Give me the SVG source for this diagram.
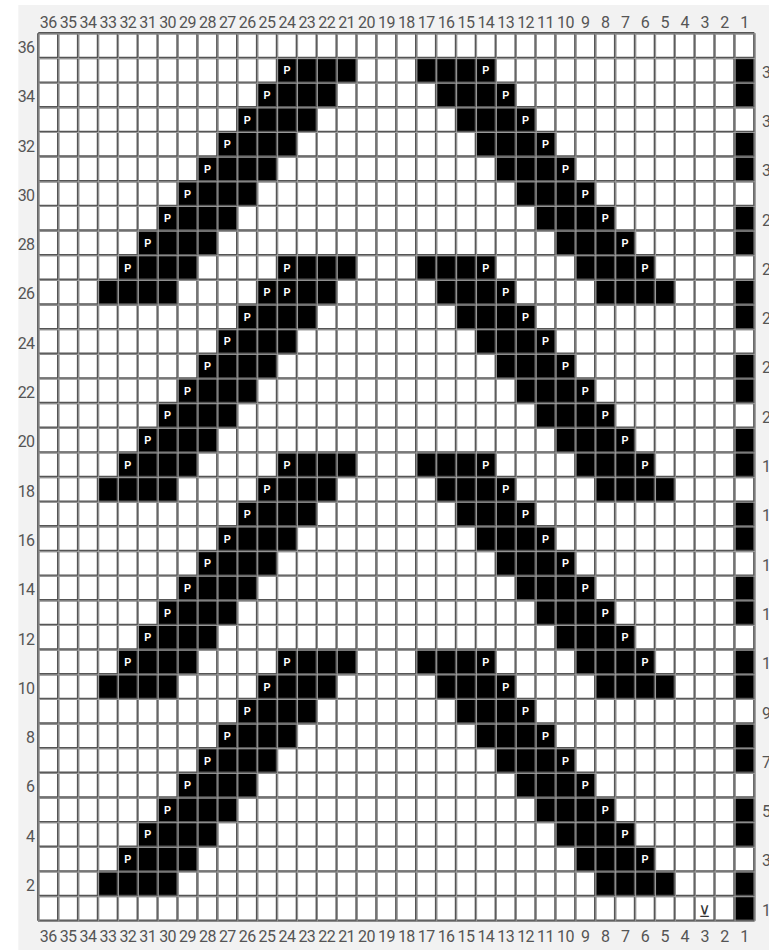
<svg xmlns="http://www.w3.org/2000/svg" xmlns:xlink="http://www.w3.org/1999/xlink" width="769" height="950" viewBox="0 0 769 950">
<style>
.lb{font-family:Roboto,"Noto Sans",sans-serif;font-size:16px;letter-spacing:-0.6px;fill:#555;text-anchor:middle}
.le{text-anchor:end}
.rs{text-anchor:start}
.p{font-family:"Liberation Sans",Arial,sans-serif;font-weight:bold;font-size:10.5px;fill:#fff;text-anchor:middle}
.gd{fill:none;stroke:#555;stroke-width:2.4}
.gl{fill:none;stroke:#aaa;stroke-width:0.8}
</style>
<defs>
<path id="gp" vector-effect="non-scaling-stroke" d="M0 0V36M1 0V36M2 0V36M3 0V36M4 0V36M5 0V36M6 0V36M7 0V36M8 0V36M9 0V36M10 0V36M11 0V36M12 0V36M13 0V36M14 0V36M15 0V36M16 0V36M17 0V36M18 0V36M19 0V36M20 0V36M21 0V36M22 0V36M23 0V36M24 0V36M25 0V36M26 0V36M27 0V36M28 0V36M29 0V36M30 0V36M31 0V36M32 0V36M33 0V36M34 0V36M35 0V36M36 0V36M0 0H36M0 1H36M0 2H36M0 3H36M0 4H36M0 5H36M0 6H36M0 7H36M0 8H36M0 9H36M0 10H36M0 11H36M0 12H36M0 13H36M0 14H36M0 15H36M0 16H36M0 17H36M0 18H36M0 19H36M0 20H36M0 21H36M0 22H36M0 23H36M0 24H36M0 25H36M0 26H36M0 27H36M0 28H36M0 29H36M0 30H36M0 31H36M0 32H36M0 33H36M0 34H36M0 35H36M0 36H36"/>
<path id="dl" d="M12 1H16V2H15V3H14V4H13V5H12V6H11V7H10V8H9V9H8V10H7V11H3V10H4V9H5V8H6V7H7V6H8V5H9V4H10V3H11V2H12Z"/>
<path id="dr" d="M19 1H23V2H24V3H25V4H26V5H27V6H28V7H29V8H30V9H31V10H32V11H28V10H27V9H26V8H25V7H24V6H23V5H22V4H21V3H20V2H19Z"/>
</defs>
<rect x="18.3" y="5" width="751" height="945" fill="#f2f2f2"/>
<g id="chart" transform="translate(38.3 33.3) scale(19.89 24.65)">
<rect x="0" y="0" width="36" height="36" fill="#fff"/>
<g id="stitches" fill="#000">
<path d="M35 1h1v2h-1zM35 4h1v2h-1zM35 7h1v2h-1zM35 10h1v2h-1zM35 13h1v2h-1zM35 16h1v2h-1zM35 19h1v2h-1zM35 22h1v2h-1zM35 25h1v2h-1zM35 28h1v2h-1zM35 31h1v2h-1zM35 34h1v2h-1z"/>
<use xlink:href="#dl"/><use xlink:href="#dl" y="8"/><use xlink:href="#dl" y="16"/><use xlink:href="#dl" y="24"/>
<use xlink:href="#dr"/><use xlink:href="#dr" y="8"/><use xlink:href="#dr" y="16"/><use xlink:href="#dr" y="24"/>
</g>
<use xlink:href="#gp" class="gd"/>
</g>
<g transform="translate(38.9 33.9) scale(19.89 24.65)"><use xlink:href="#gp" class="gl"/></g>
<g id="purl-marks" class="p">
<text x="286.9" y="74.3">P</text><text x="485.8" y="74.3">P</text>
<text x="267.0" y="98.9">P</text><text x="505.7" y="98.9">P</text>
<text x="247.2" y="123.6">P</text><text x="525.6" y="123.6">P</text>
<text x="227.3" y="148.2">P</text><text x="545.5" y="148.2">P</text>
<text x="207.4" y="172.9">P</text><text x="565.4" y="172.9">P</text>
<text x="187.5" y="197.5">P</text><text x="585.3" y="197.5">P</text>
<text x="167.6" y="222.2">P</text><text x="605.2" y="222.2">P</text>
<text x="147.7" y="246.8">P</text><text x="625.1" y="246.8">P</text>
<text x="127.8" y="271.5">P</text><text x="645.0" y="271.5">P</text><text x="286.9" y="271.5">P</text><text x="485.8" y="271.5">P</text>
<text x="267.0" y="296.1">P</text><text x="286.9" y="296.1">P</text><text x="505.7" y="296.1">P</text>
<text x="247.2" y="320.8">P</text><text x="525.6" y="320.8">P</text>
<text x="227.3" y="345.4">P</text><text x="545.5" y="345.4">P</text>
<text x="207.4" y="370.1">P</text><text x="565.4" y="370.1">P</text>
<text x="187.5" y="394.7">P</text><text x="585.3" y="394.7">P</text>
<text x="167.6" y="419.4">P</text><text x="605.2" y="419.4">P</text>
<text x="147.7" y="444.0">P</text><text x="625.1" y="444.0">P</text>
<text x="127.8" y="468.7">P</text><text x="645.0" y="468.7">P</text><text x="286.9" y="468.7">P</text><text x="485.8" y="468.7">P</text>
<text x="267.0" y="493.3">P</text><text x="505.7" y="493.3">P</text>
<text x="247.2" y="518.0">P</text><text x="525.6" y="518.0">P</text>
<text x="227.3" y="542.6">P</text><text x="545.5" y="542.6">P</text>
<text x="207.4" y="567.3">P</text><text x="565.4" y="567.3">P</text>
<text x="187.5" y="591.9">P</text><text x="585.3" y="591.9">P</text>
<text x="167.6" y="616.6">P</text><text x="605.2" y="616.6">P</text>
<text x="147.7" y="641.2">P</text><text x="625.1" y="641.2">P</text>
<text x="127.8" y="665.9">P</text><text x="645.0" y="665.9">P</text><text x="286.9" y="665.9">P</text><text x="485.8" y="665.9">P</text>
<text x="267.0" y="690.5">P</text><text x="505.7" y="690.5">P</text>
<text x="247.2" y="715.2">P</text><text x="525.6" y="715.2">P</text>
<text x="227.3" y="739.8">P</text><text x="545.5" y="739.8">P</text>
<text x="207.4" y="764.5">P</text><text x="565.4" y="764.5">P</text>
<text x="187.5" y="789.1">P</text><text x="585.3" y="789.1">P</text>
<text x="167.6" y="813.8">P</text><text x="605.2" y="813.8">P</text>
<text x="147.7" y="838.4">P</text><text x="625.1" y="838.4">P</text>
<text x="127.8" y="863.1">P</text><text x="645.0" y="863.1">P</text>
</g>
<g id="slip-mark"><text x="704.6" y="917" font-family="'DejaVu Sans',sans-serif" font-size="16" fill="#333" text-anchor="middle">⊻</text></g>
<g id="col-labels-top" class="lb">
<text x="48.2" y="28">36</text><text x="68.1" y="28">35</text><text x="88.0" y="28">34</text><text x="107.9" y="28">33</text><text x="127.8" y="28">32</text><text x="147.7" y="28">31</text><text x="167.6" y="28">30</text><text x="187.5" y="28">29</text><text x="207.4" y="28">28</text><text x="227.3" y="28">27</text><text x="247.2" y="28">26</text><text x="267.0" y="28">25</text><text x="286.9" y="28">24</text><text x="306.8" y="28">23</text><text x="326.7" y="28">22</text><text x="346.6" y="28">21</text><text x="366.5" y="28">20</text><text x="386.4" y="28">19</text><text x="406.3" y="28">18</text><text x="426.2" y="28">17</text><text x="446.1" y="28">16</text><text x="465.9" y="28">15</text><text x="485.8" y="28">14</text><text x="505.7" y="28">13</text><text x="525.6" y="28">12</text><text x="545.5" y="28">11</text><text x="565.4" y="28">10</text><text x="585.3" y="28">9</text><text x="605.2" y="28">8</text><text x="625.1" y="28">7</text><text x="645.0" y="28">6</text><text x="664.8" y="28">5</text><text x="684.7" y="28">4</text><text x="704.6" y="28">3</text><text x="724.5" y="28">2</text><text x="744.4" y="28">1</text>
</g>
<g id="col-labels-bottom" class="lb">
<text x="48.2" y="941.5">36</text><text x="68.1" y="941.5">35</text><text x="88.0" y="941.5">34</text><text x="107.9" y="941.5">33</text><text x="127.8" y="941.5">32</text><text x="147.7" y="941.5">31</text><text x="167.6" y="941.5">30</text><text x="187.5" y="941.5">29</text><text x="207.4" y="941.5">28</text><text x="227.3" y="941.5">27</text><text x="247.2" y="941.5">26</text><text x="267.0" y="941.5">25</text><text x="286.9" y="941.5">24</text><text x="306.8" y="941.5">23</text><text x="326.7" y="941.5">22</text><text x="346.6" y="941.5">21</text><text x="366.5" y="941.5">20</text><text x="386.4" y="941.5">19</text><text x="406.3" y="941.5">18</text><text x="426.2" y="941.5">17</text><text x="446.1" y="941.5">16</text><text x="465.9" y="941.5">15</text><text x="485.8" y="941.5">14</text><text x="505.7" y="941.5">13</text><text x="525.6" y="941.5">12</text><text x="545.5" y="941.5">11</text><text x="565.4" y="941.5">10</text><text x="585.3" y="941.5">9</text><text x="605.2" y="941.5">8</text><text x="625.1" y="941.5">7</text><text x="645.0" y="941.5">6</text><text x="664.8" y="941.5">5</text><text x="684.7" y="941.5">4</text><text x="704.6" y="941.5">3</text><text x="724.5" y="941.5">2</text><text x="744.4" y="941.5">1</text>
</g>
<g id="row-labels-left" class="lb le">
<text x="34.5" y="53">36</text><text x="34.5" y="102.2">34</text><text x="34.5" y="151.5">32</text><text x="34.5" y="200.8">30</text><text x="34.5" y="250.1">28</text><text x="34.5" y="299.4">26</text><text x="34.5" y="348.7">24</text><text x="34.5" y="398">22</text><text x="34.5" y="447.3">20</text><text x="34.5" y="496.6">18</text><text x="34.5" y="545.9">16</text><text x="34.5" y="595.2">14</text><text x="34.5" y="644.5">12</text><text x="34.5" y="693.8">10</text><text x="34.5" y="743.1">8</text><text x="34.5" y="792.4">6</text><text x="34.5" y="841.7">4</text><text x="34.5" y="891">2</text>
</g>
<g id="row-labels-right" class="lb rs">
<text x="762" y="77.6">35</text><text x="762" y="126.9">33</text><text x="762" y="176.2">31</text><text x="762" y="225.5">29</text><text x="762" y="274.8">27</text><text x="762" y="324.1">25</text><text x="762" y="373.4">23</text><text x="762" y="422.7">21</text><text x="762" y="472">19</text><text x="762" y="521.3">17</text><text x="762" y="570.6">15</text><text x="762" y="619.9">13</text><text x="762" y="669.2">11</text><text x="762" y="718.5">9</text><text x="762" y="767.8">7</text><text x="762" y="817.1">5</text><text x="762" y="866.4">3</text><text x="762" y="915.7">1</text>
</g>
</svg>
